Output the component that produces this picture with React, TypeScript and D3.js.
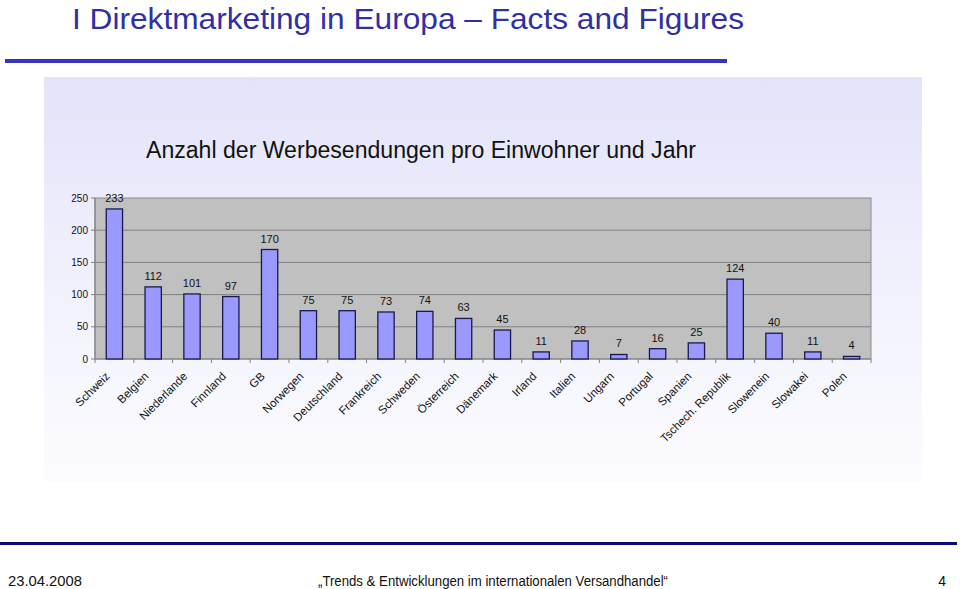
import React from "react";
import * as d3 from "d3";

const categories = [
  "Schweiz", "Belgien", "Niederlande", "Finnland", "GB", "Norwegen", "Deutschland",
  "Frankreich", "Schweden", "Österreich", "Dänemark", "Irland", "Italien", "Ungarn",
  "Portugal", "Spanien", "Tschech. Republik", "Slowenein", "Slowakei", "Polen",
];
const values = [233, 112, 101, 97, 170, 75, 75, 73, 74, 63, 45, 11, 28, 7, 16, 25, 124, 40, 11, 4];
const yTicks = [0, 50, 100, 150, 200, 250];

const W = 960;
const H = 589;
const plot = { left: 95, right: 871, top: 198, bottom: 359 };

export default function App() {
  const x = d3
    .scaleBand<string>()
    .domain(categories)
    .range([plot.left, plot.right])
    .paddingInner(0.58)
    .paddingOuter(0.29);
  const y = d3.scaleLinear().domain([0, 250]).range([plot.bottom, plot.top]);
  const step = x.step();
  const font = "'Liberation Sans', Arial, sans-serif";

  return (
    <svg
      width={W}
      height={H}
      style={{ position: "absolute", left: 0, top: 0, background: "#fff" }}
      fontFamily={font}
    >
      <defs>
        <linearGradient id="bg" x1="0" y1="0" x2="0" y2="1">
          <stop offset="0" stopColor="#e3e3fa" />
          <stop offset="0.55" stopColor="#f2f2fd" />
          <stop offset="1" stopColor="#fcfcff" />
        </linearGradient>
      </defs>
      <rect x={0} y={0} width={W} height={H} fill="#ffffff" />
      {/* main title */}
      <text
        x={72}
        y={29}
        fontSize={30}
        fill="#2f2fa6"
        textLength={672}
        lengthAdjust="spacingAndGlyphs"
      >
        I Direktmarketing in Europa – Facts and Figures
      </text>
      <rect x={5} y={59} width={722} height={4} fill="#3535bd" />

      {/* chart area */}
      <rect x={44} y={77} width={878} height={405} fill="url(#bg)" />
      <text
        x={146}
        y={158}
        fontSize={23}
        fill="#111"
        textLength={550}
        lengthAdjust="spacingAndGlyphs"
      >
        Anzahl der Werbesendungen pro Einwohner und Jahr
      </text>

      {/* plot area */}
      <rect
        x={plot.left}
        y={plot.top}
        width={plot.right - plot.left}
        height={plot.bottom - plot.top}
        fill="#c0c0c0"
        stroke="#8a8a8a"
        strokeWidth={1}
      />
      {yTicks.map((t) => (
        <g key={t}>
          {t > 0 && t < 250 && (
            <line x1={plot.left} x2={plot.right} y1={y(t)} y2={y(t)} stroke="#808080" strokeWidth={1} />
          )}
          <line x1={plot.left - 4} x2={plot.left} y1={y(t)} y2={y(t)} stroke="#808080" />
          <text x={plot.left - 7} y={y(t)} dy="0.35em" textAnchor="end" fontSize={10} fill="#111">
            {t}
          </text>
        </g>
      ))}
      {/* x axis */}
      <line x1={plot.left} x2={plot.right} y1={plot.bottom} y2={plot.bottom} stroke="#808080" />
      <line x1={plot.left} x2={plot.left} y1={plot.top} y2={plot.bottom} stroke="#808080" />
      {d3.range(categories.length + 1).map((i) => (
        <line
          key={i}
          x1={plot.left + i * step}
          x2={plot.left + i * step}
          y1={plot.bottom}
          y2={plot.bottom + 4}
          stroke="#808080"
        />
      ))}

      {/* bars */}
      {categories.map((c, i) => (
        <rect
          key={c}
          x={x(c)!}
          y={y(values[i])}
          width={x.bandwidth()}
          height={plot.bottom - y(values[i])}
          fill="#9999ff"
          stroke="#1a1a4a"
          strokeWidth={1.3}
        />
      ))}
      {categories.map((c, i) => (
        <text
          key={c}
          x={x(c)! + x.bandwidth() / 2}
          y={y(values[i]) - 7}
          textAnchor="middle"
          fontSize={11}
          fill="#111"
        >
          {values[i]}
        </text>
      ))}
      {categories.map((c) => {
        const cx = x(c)! + x.bandwidth() / 2 - 4;
        const cy = plot.bottom + 18;
        return (
          <text
            key={c}
            transform={`translate(${cx},${cy}) rotate(-45)`}
            textAnchor="end"
            fontSize={11.5}
            fill="#111"
          >
            {c}
          </text>
        );
      })}

      {/* footer */}
      <rect x={0} y={542} width={957} height={3} fill="#0a0a80" />
      <text x={8} y={586} fontSize={14} fill="#111" textLength={74} lengthAdjust="spacingAndGlyphs">
        23.04.2008
      </text>
      <text x={318} y={586} fontSize={14} fill="#111" textLength={350} lengthAdjust="spacingAndGlyphs">
        „Trends &amp; Entwicklungen im internationalen Versandhandel“
      </text>
      <text x={946} y={586} fontSize={14} textAnchor="end" fill="#111">
        4
      </text>
    </svg>
  );
}
